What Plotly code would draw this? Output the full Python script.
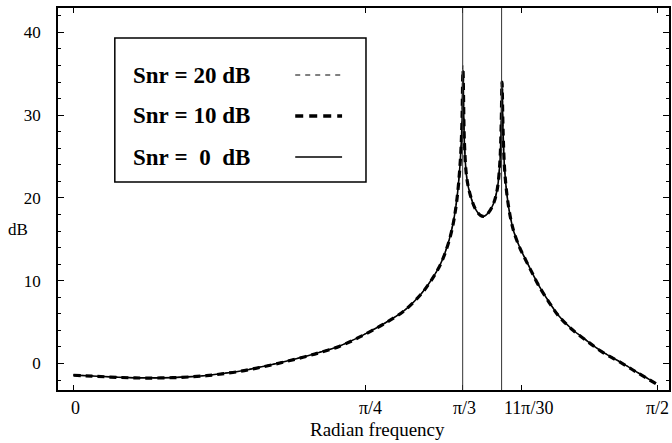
import math
import plotly.graph_objects as go

# ---------------- data ----------------
freq = [0.000, 0.050, 0.100, 0.150, 0.200, 0.267, 0.320, 0.358, 0.400, 0.446,
        0.490, 0.535, 0.580, 0.626, 0.670, 0.715, 0.760, 0.803, 0.850, 0.894,
        0.937, 0.960, 0.983, 1.000, 1.017, 1.030, 1.040, 1.045, 1.048,
        1.052, 1.058, 1.068, 1.081, 1.095, 1.105, 1.118, 1.130, 1.140, 1.147,
        1.151, 1.153, 1.156, 1.160, 1.166, 1.175, 1.185, 1.200, 1.216, 1.235,
        1.251, 1.280, 1.305, 1.340, 1.377, 1.420, 1.474, 1.520, 1.567]

db_snr0 = [-1.40, -1.50, -1.62, -1.70, -1.74, -1.70, -1.58, -1.45, -1.22, -0.93,
           -0.55, -0.12, 0.36, 0.88, 1.45, 2.09, 3.00, 4.00, 5.20, 6.55,
           8.50, 9.90, 11.6, 13.4, 16.0, 19.3, 24.0, 28.5, 34.8,
           26.5, 22.5, 20.3, 18.7, 17.9, 17.8, 18.3, 19.3, 21.0, 24.0,
           29.0, 33.6, 27.8, 23.5, 20.5, 17.8, 15.9, 14.1, 12.6, 10.9,
           9.5, 7.4, 5.8, 4.2, 2.9, 1.5, 0.10, -1.15, -2.40]

db_snr10 = [-1.42, -1.52, -1.64, -1.72, -1.76, -1.71, -1.60, -1.47, -1.25, -0.96,
            -0.58, -0.15, 0.33, 0.85, 1.42, 2.06, 2.97, 3.97, 5.17, 6.52,
            8.47, 9.87, 11.56, 13.35, 15.9, 19.2, 23.9, 28.7, 35.4,
            26.6, 22.5, 20.3, 18.7, 17.9, 17.8, 18.3, 19.3, 21.0, 24.1,
            29.2, 34.0, 27.9, 23.5, 20.5, 17.8, 15.9, 14.07, 12.57, 10.87,
            9.47, 7.37, 5.77, 4.17, 2.87, 1.47, 0.07, -1.18, -2.43]

db_snr20 = [-1.38, -1.49, -1.60, -1.69, -1.73, -1.69, -1.57, -1.44, -1.20, -0.91,
            -0.53, -0.10, 0.38, 0.90, 1.47, 2.11, 3.02, 4.02, 5.22, 6.58,
            8.53, 9.93, 11.64, 13.45, 16.1, 19.4, 24.2, 29.0, 36.0,
            26.8, 22.6, 20.4, 18.7, 17.9, 17.8, 18.3, 19.3, 21.1, 24.2,
            29.5, 34.3, 28.0, 23.6, 20.6, 17.9, 16.0, 14.13, 12.63, 10.93,
            9.53, 7.43, 5.83, 4.23, 2.93, 1.53, 0.12, -1.12, -2.37]

ref_lines = [math.pi / 3, 11 * math.pi / 30]

x_tick_vals = [0, math.pi / 4, math.pi / 3, 1.205, math.pi / 2]
x_tick_text = ["0", "π/4", "π/3", "11π/30", "π/2"]
x_label_shift = [2, 5, 2, 7, 0]

y_tick_vals = [0, 10, 20, 30, 40]
y_tick_text = ["0", "10", "20", "30", "40"]

legend_labels = ["Snr\u00a0=\u00a020\u00a0dB", "Snr\u00a0=\u00a010\u00a0dB", "Snr\u00a0=\u00a0\u00a00\u00a0\u00a0dB"]

# ---------------- layout geometry ----------------
W, H = 672, 443
L, R, T, B = 58, 1, 8, 53
PW, PH = W - L - R, H - T - B

def px(xp):
    return (xp - L) / PW

def py(yp):
    return (H - B - yp) / PH

SERIF = "Liberation Serif"

fig = go.Figure()

styles = [
    dict(width=1, dash="4px,4px"),
    dict(width=3.2, dash="7px,5px"),
    dict(width=1.6, dash="solid"),
]
for name, ys, st in zip(["Snr = 20 dB", "Snr = 10 dB", "Snr = 0 dB"],
                        [db_snr20, db_snr10, db_snr0], styles):
    fig.add_trace(go.Scatter(x=freq, y=ys, mode="lines", name=name,
                             line=dict(color="black", shape="spline", smoothing=1.0, **st),
                             showlegend=False, hoverinfo="skip"))

shapes = []
for xv in ref_lines:
    shapes.append(dict(type="line", xref="x", yref="paper", x0=xv, x1=xv, y0=0, y1=1,
                       line=dict(color="#333333", width=1)))

# custom legend (text left, line sample right)
shapes.append(dict(type="rect", xref="paper", yref="paper",
                   x0=px(115), x1=px(367), y0=py(182), y1=py(38),
                   line=dict(color="black", width=1.5), fillcolor="white", layer="above"))
row_y = [75, 116, 157]
leg_styles = [dict(width=1, dash="5px,5px"), dict(width=3.5, dash="8px,6px"), dict(width=1.6, dash="solid")]
annotations = []
for lbl, ry, st in zip(legend_labels, row_y, leg_styles):
    shapes.append(dict(type="line", xref="paper", yref="paper",
                       x0=px(296), x1=px(343), y0=py(ry), y1=py(ry),
                       line=dict(color="black", **st), layer="above"))
    annotations.append(dict(xref="paper", yref="paper", x=px(131), y=py(ry),
                            text="<b>%s</b>" % lbl, showarrow=False,
                            xanchor="left", yanchor="middle",
                            font=dict(family=SERIF, size=23, color="black")))

for xv, txt, sh in zip(x_tick_vals, x_tick_text, x_label_shift):
    annotations.append(dict(xref="x", yref="paper", x=xv, y=0, yshift=-18, xshift=sh,
                            text=txt, showarrow=False, xanchor="center", yanchor="middle",
                            font=dict(family=SERIF, size=18, color="black")))

annotations.append(dict(xref="paper", yref="paper", x=px(379), y=py(430),
                        text="Radian frequency", showarrow=False,
                        xanchor="center", yanchor="middle",
                        font=dict(family=SERIF, size=19, color="black")))
annotations.append(dict(xref="paper", yref="paper", x=px(18), y=py(229),
                        text="dB", showarrow=False, xanchor="center", yanchor="middle",
                        font=dict(family=SERIF, size=17, color="black")))

x0_data = (L - 73.5) / 372.9
x1_data = (W - R - 73.5) / 372.9

fig.update_layout(
    width=W, height=H,
    margin=dict(l=L, r=R, t=T, b=B, pad=0),
    paper_bgcolor="white", plot_bgcolor="white",
    font=dict(family=SERIF, color="black"),
    shapes=shapes, annotations=annotations,
    xaxis=dict(range=[x0_data, x1_data], tickvals=x_tick_vals, ticktext=[""] * len(x_tick_vals),
               ticks="inside", ticklen=5, tickwidth=1, tickcolor="black",
               showline=True, linecolor="black", linewidth=1.5, mirror="allticks",
               showgrid=False, zeroline=False),
    yaxis=dict(range=[-3.2, 42.95], tickvals=y_tick_vals, ticktext=y_tick_text,
               ticks="inside", ticklen=6, tickwidth=1, tickcolor="black",
               minor=dict(dtick=2, ticks="inside", ticklen=3, tickcolor="black", showgrid=False),
               showline=True, linecolor="black", linewidth=1.5, mirror="allticks",
               showgrid=False, zeroline=False, ticklabelstandoff=12,
               tickfont=dict(family=SERIF, size=17, color="black")),
)

fig.write_html("out.html")
